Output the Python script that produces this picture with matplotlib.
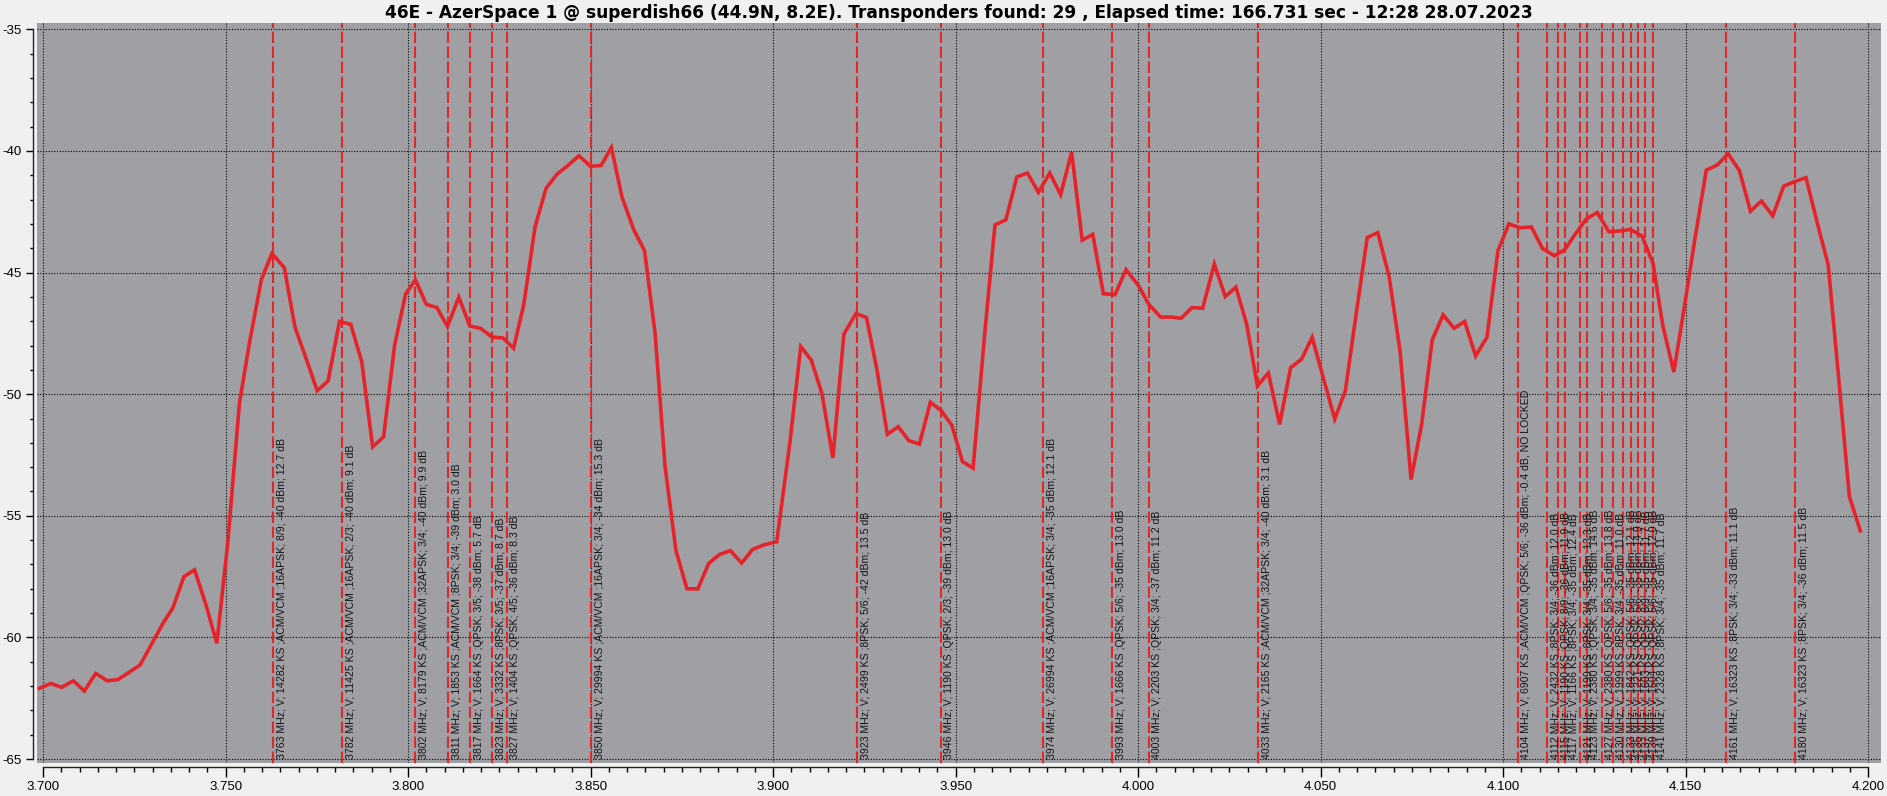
import matplotlib
matplotlib.use("Agg")
import matplotlib.pyplot as plt
from matplotlib.ticker import MultipleLocator, FormatStrFormatter

plt.rcParams['axes.unicode_minus'] = False
plt.rcParams['font.family'] = ['Liberation Sans', 'DejaVu Sans']

# spectrum trace (MHz, dBm)
freq_mhz = [3699.0, 3702.1, 3705.1, 3708.3, 3711.3, 3714.4, 3717.6, 3720.5, 3723.6, 3726.6,
            3729.8, 3732.8, 3735.5, 3738.6, 3741.5, 3744.6, 3747.6, 3750.6, 3753.8, 3756.6,
            3759.8, 3762.7, 3766.1, 3769.0, 3772.1, 3775.1, 3778.1, 3781.2, 3784.3, 3787.3,
            3790.3, 3793.3, 3796.3, 3799.3, 3802.0, 3805.0, 3807.9, 3810.8, 3813.9, 3816.9,
            3819.9, 3823.0, 3826.0, 3828.9, 3831.7, 3834.8, 3837.8, 3840.8, 3843.8, 3846.8,
            3850.0, 3852.9, 3855.7, 3858.6, 3861.8, 3864.8, 3867.7, 3870.4, 3873.4, 3876.4,
            3879.4, 3882.4, 3885.3, 3888.3, 3891.4, 3894.4, 3897.6, 3901.0, 3904.6, 3907.6,
            3910.5, 3913.4, 3916.4, 3919.4, 3922.7, 3925.6, 3928.4, 3931.3, 3934.3, 3937.2,
            3940.1, 3943.1, 3946.1, 3949.0, 3951.9, 3954.8, 3958.0, 3960.8, 3963.8, 3966.8,
            3969.7, 3972.7, 3975.8, 3978.8, 3981.8, 3984.7, 3987.6, 3990.5, 3993.7, 3996.7,
            4000.1, 4003.0, 4006.2, 4009.1, 4011.8, 4014.8, 4017.7, 4020.9, 4023.9, 4026.8,
            4029.8, 4032.7, 4035.7, 4038.8, 4041.8, 4044.8, 4047.7, 4050.7, 4053.9, 4056.8,
            4059.8, 4062.8, 4065.7, 4068.8, 4071.8, 4074.8, 4077.7, 4080.6, 4083.6, 4086.6,
            4089.5, 4092.5, 4095.6, 4098.6, 4101.6, 4104.7, 4107.8, 4110.8, 4114.1, 4116.9,
            4119.9, 4122.8, 4125.8, 4129.0, 4132.0, 4134.9, 4138.1, 4141.1, 4143.8, 4146.8,
            4149.8, 4152.7, 4155.7, 4158.7, 4161.7, 4164.8, 4167.8, 4170.8, 4173.9, 4176.9,
            4179.9, 4183.0, 4186.0, 4189.1, 4192.0, 4194.9, 4197.9]
level_dbm = [-62.09, -61.89, -62.05, -61.78, -62.20, -61.48, -61.78, -61.73, -61.43, -61.13,
             -60.25, -59.43, -58.80, -57.50, -57.22, -58.64, -60.24, -56.11, -50.36, -47.84,
             -45.29, -44.22, -44.80, -47.24, -48.55, -49.86, -49.45, -47.01, -47.13, -48.66,
             -52.17, -51.75, -48.00, -45.89, -45.30, -46.31, -46.44, -47.22, -46.01, -47.19,
             -47.30, -47.65, -47.69, -48.11, -46.32, -43.12, -41.54, -40.96, -40.60, -40.20,
             -40.63, -40.60, -39.86, -41.89, -43.23, -44.11, -47.53, -52.96, -56.43, -58.00,
             -58.00, -56.95, -56.59, -56.43, -56.94, -56.38, -56.19, -56.07, -52.00, -48.04,
             -48.61, -49.98, -52.62, -47.53, -46.69, -46.85, -48.94, -51.65, -51.34, -51.91,
             -52.05, -50.33, -50.68, -51.28, -52.77, -53.04, -47.50, -43.04, -42.83, -41.07,
             -40.91, -41.70, -40.91, -41.80, -40.05, -43.67, -43.43, -45.87, -45.91, -44.88,
             -45.53, -46.32, -46.83, -46.83, -46.88, -46.44, -46.47, -44.65, -45.99, -45.60,
             -47.14, -49.66, -49.13, -51.24, -48.91, -48.56, -47.66, -49.30, -51.02, -49.86,
             -46.66, -43.56, -43.36, -45.17, -48.24, -53.51, -51.24, -47.77, -46.74, -47.29,
             -47.01, -48.43, -47.66, -44.11, -43.00, -43.16, -43.13, -44.01, -44.31, -44.06,
             -43.40, -42.80, -42.53, -43.32, -43.29, -43.23, -43.50, -44.63, -47.20, -49.09,
             -46.30, -43.50, -40.79, -40.58, -40.12, -40.82, -42.48, -42.06, -42.67, -41.45,
             -41.26, -41.10, -42.90, -44.69, -49.40, -54.20, -55.62]

# transponders found
tp_freq = [3763, 3782, 3802, 3811, 3817, 3823, 3827, 3850, 3923, 3946, 3974, 3993, 4003, 4033,
           4104, 4112, 4115, 4117, 4121, 4123, 4127, 4130, 4133, 4135, 4137, 4139, 4141, 4161, 4180]
tp_params = [
    "14282 KS ;ACM/VCM ;16APSK; 8/9; -40 dBm; 12.7 dB",
    "11425 KS ;ACM/VCM ;16APSK; 2/3; -40 dBm; 9.1 dB",
    "8179 KS ;ACM/VCM ;32APSK; 3/4; -40 dBm; 9.9 dB",
    "1853 KS ;ACM/VCM ;8PSK; 3/4; -39 dBm; 3.0 dB",
    "1664 KS ;QPSK; 3/5; -38 dBm; 5.7 dB",
    "3332 KS ;8PSK; 3/5; -37 dBm; 8.7 dB",
    "1404 KS ;QPSK; 4/5; -36 dBm; 8.3 dB",
    "29994 KS ;ACM/VCM ;16APSK; 3/4; -34 dBm; 15.3 dB",
    "2499 KS ;8PSK; 5/6; -42 dBm; 13.5 dB",
    "1190 KS ;QPSK; 2/3; -39 dBm; 13.0 dB",
    "26994 KS ;ACM/VCM ;16APSK; 3/4; -35 dBm; 12.1 dB",
    "1666 KS ;QPSK; 5/6; -35 dBm; 13.0 dB",
    "2203 KS ;QPSK; 3/4; -37 dBm; 11.2 dB",
    "2165 KS ;ACM/VCM ;32APSK; 3/4; -40 dBm; 3.1 dB",
    "6907 KS ;ACM/VCM ;QPSK; 5/6; -36 dBm; -0.4 dB, NO LOCKED",
    "2432 KS ;8PSK; 3/4; -36 dBm; 12.0 dB",
    "1190 KS ;QPSK; 8/9; -36 dBm; 11.9 dB",
    "1166 KS ;8PSK; 3/4; -35 dBm; 12.4 dB",
    "1199 KS ;8PSK; 3/4; -35 dBm; 13.3 dB",
    "2380 KS ;QPSK; 3/4; -35 dBm; 14.6 dB",
    "2380 KS ;QPSK; 5/6; -35 dBm; 13.8 dB",
    "1999 KS ;8PSK; 3/4; -35 dBm; 11.0 dB",
    "1842 KS ;QPSK; 5/6; -35 dBm; 12.1 dB",
    "1221 KS ;QPSK; 5/6; -35 dBm; 14.9 dB",
    "1603 KS ;QPSK; 8/9; -35 dBm; 11.7 dB",
    "1504 KS ;QPSK; 5/6; -35 dBm; 12.0 dB",
    "2328 KS ;8PSK; 3/4; -35 dBm; 11.7 dB",
    "16323 KS ;8PSK; 3/4; -33 dBm; 11.1 dB",
    "16323 KS ;8PSK; 3/4; -36 dBm; 11.5 dB",
]

title = ("46E - AzerSpace 1 @ superdish66 (44.9N, 8.2E). Transponders found: 29 , "
         "Elapsed time: 166.731 sec - 12:28 28.07.2023")

W, H = 1887, 796
fig = plt.figure(figsize=(W / 100, H / 100), dpi=100, facecolor='#f0f0f0')
ax = fig.add_axes([37 / W, 33 / H, (1881 - 37) / W, (763 - 22.7) / H])
ax.set_facecolor('#a0a0a4')

fx = [f / 1000 for f in freq_mhz]
ax.plot(fx, level_dbm, color='#e6222a', lw=2.6, zorder=4, solid_joinstyle='miter')

for f, p in zip(tp_freq, tp_params):
    ax.axvline(f / 1000, color='#e02828', lw=1.5, ls=(0, (5.5, 1.7)), zorder=3)
    ax.annotate(f"{f} MHz; V; {p}", xy=(f / 1000, -65), xytext=(2.5, 0),
                textcoords='offset points', rotation=90, ha='left', va='bottom',
                fontsize=7.6, color='#141414', zorder=5)

ax.set_xlim(3.69833, 4.20356)
ax.set_ylim(-65.16, -34.73)

ax.xaxis.set_major_locator(MultipleLocator(0.05))
ax.xaxis.set_minor_locator(MultipleLocator(0.005))
ax.xaxis.set_major_formatter(FormatStrFormatter('%.3f'))
ax.yaxis.set_major_locator(MultipleLocator(5))
ax.yaxis.set_minor_locator(MultipleLocator(1))
ax.yaxis.set_major_formatter(FormatStrFormatter('%d'))

ax.grid(True, which='major', color='black', ls=(0, (1, 1.5)), lw=0.8)

for s in ['top', 'right']:
    ax.spines[s].set_visible(False)
ax.spines['left'].set_position(('outward', 2.6))
ax.spines['bottom'].set_position(('outward', 2.9))
ax.spines['left'].set_bounds(-65, -35)
ax.spines['bottom'].set_bounds(3.7, 4.2)
for s in ['left', 'bottom']:
    ax.spines[s].set_color('#222222')
    ax.spines[s].set_linewidth(1)

ax.tick_params(axis='x', which='major', length=7.2, width=1, pad=3, labelsize=9.5)
ax.tick_params(axis='x', which='minor', length=3.6, width=1)
ax.tick_params(axis='y', which='major', length=5.4, width=1, pad=3, labelsize=9.5)
ax.tick_params(axis='y', which='minor', length=2.5, width=1)

# title centred over the plot, sized to span ~1148 px like the original
t = fig.text((37 + 1881) / 2 / W, 1 - 18.5 / H, title, ha='center', va='baseline',
             fontsize=12, fontweight='bold', family=['DejaVu Sans'])
fig.canvas.draw()
t.set_fontsize(12 * 1148 / t.get_window_extent().width)

fig.savefig('out.png', dpi=100, facecolor=fig.get_facecolor())
